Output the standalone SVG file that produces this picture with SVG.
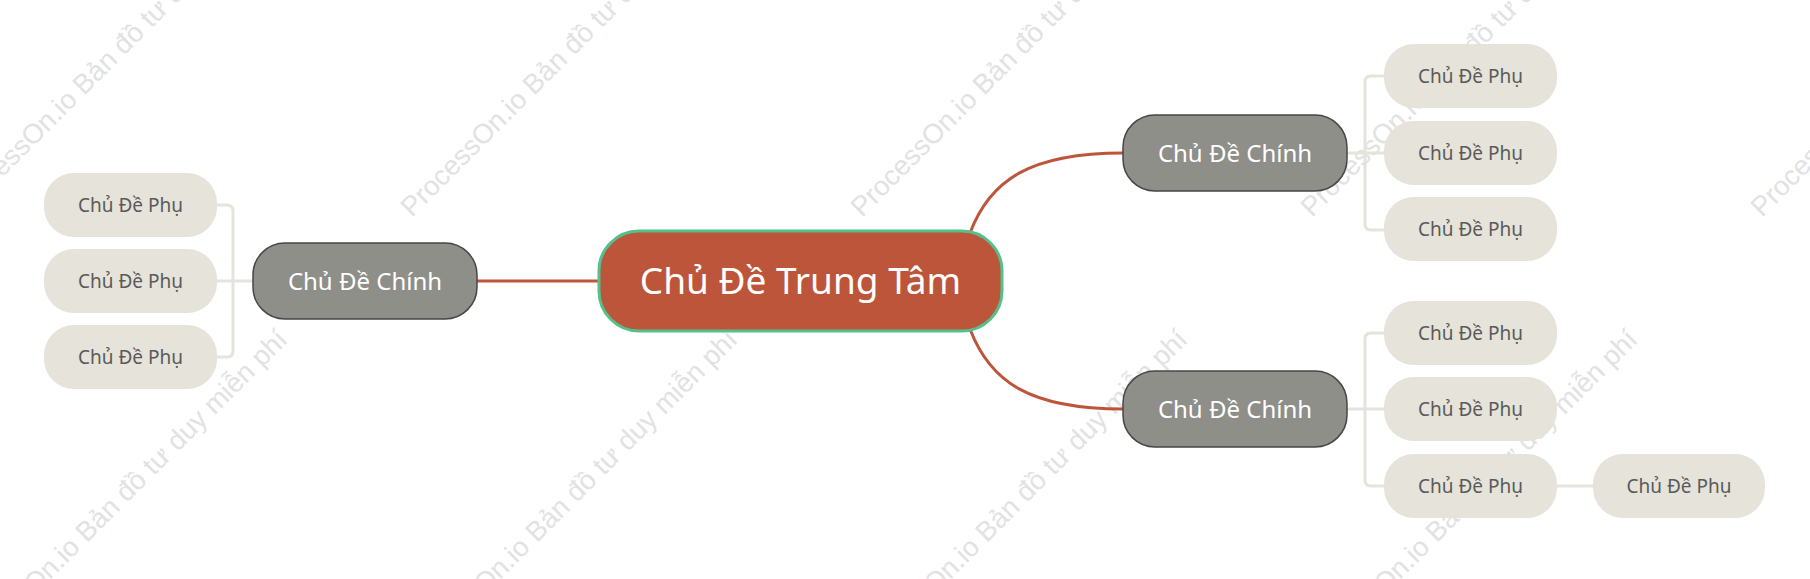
<svg xmlns="http://www.w3.org/2000/svg" width="1810" height="579" viewBox="0 0 1810 579">
  <style>
    .wm { font-family: "Liberation Sans", Arial, sans-serif; font-size: 27.5px; fill: #e2e2e2; }
    .center rect { fill: #BC5539; stroke: #55C08C; stroke-width: 3; }
    .center text { font-family: "Noto Sans", "Open Sans", sans-serif; font-size: 37px; fill: #ffffff; text-anchor: middle; }
    .main rect { fill: #8F8F8A; stroke: #474747; stroke-width: 1.5; }
    .main text { font-family: "Noto Sans", "Open Sans", sans-serif; font-size: 24px; fill: #ffffff; text-anchor: middle; }
    .sub rect { fill: #E6E3DB; }
    .sub text { font-family: "Noto Sans", "Open Sans", sans-serif; font-size: 19px; fill: #5a5a5a; text-anchor: middle; }
    .red { fill: none; stroke: #BC5539; stroke-width: 3; }
    .light { fill: none; stroke: #E6E3DB; stroke-width: 3; }
  </style>
  <rect x="0" y="0" width="1810" height="579" fill="#ffffff"/>
  <g id="watermarks">
    <text class="wm" transform="translate(-38,218) rotate(-45)">ProcessOn.io Bản đồ tư duy miễn phí</text>
    <text class="wm" transform="translate(412,218) rotate(-45)">ProcessOn.io Bản đồ tư duy miễn phí</text>
    <text class="wm" transform="translate(862,218) rotate(-45)">ProcessOn.io Bản đồ tư duy miễn phí</text>
    <text class="wm" transform="translate(1312,218) rotate(-45)">ProcessOn.io Bản đồ tư duy miễn phí</text>
    <text class="wm" transform="translate(1762,218) rotate(-45)">ProcessOn.io Bản đồ tư duy miễn phí</text>
    <text class="wm" text-anchor="end" transform="translate(289,341) rotate(-45)">ProcessOn.io Bản đồ tư duy miễn phí</text>
    <text class="wm" text-anchor="end" transform="translate(739,341) rotate(-45)">ProcessOn.io Bản đồ tư duy miễn phí</text>
    <text class="wm" text-anchor="end" transform="translate(1189,341) rotate(-45)">ProcessOn.io Bản đồ tư duy miễn phí</text>
    <text class="wm" text-anchor="end" transform="translate(1639,341) rotate(-45)">ProcessOn.io Bản đồ tư duy miễn phí</text>
  </g>
  <g id="connectors">
    <path class="red" d="M477 281 H599"/>
    <path class="red" d="M970 233 C990 180 1030 153 1123 153"/>
    <path class="red" d="M970 329 C990 382 1030 409 1123 409"/>
    <path class="light" d="M217 205 H227 Q233 205 233 211 V351 Q233 357 227 357 H217"/>
    <path class="light" d="M217 281 H253"/>
    <path class="light" d="M1347 153 H1384"/>
    <path class="light" d="M1384 76 H1371 Q1365 76 1365 82 V224 Q1365 230 1371 230 H1384"/>
    <path class="light" d="M1347 409 H1384"/>
    <path class="light" d="M1384 333 H1371 Q1365 333 1365 339 V480 Q1365 486 1371 486 H1384"/>
    <path class="light" d="M1557 486 H1593"/>
  </g>
  <g id="center" class="center">
    <rect x="599" y="231" width="403" height="100" rx="40" ry="40"/>
    <text x="800.5" y="294">Chủ Đề Trung Tâm</text>
  </g>
  <g id="main-left" class="main">
    <rect x="253" y="243" width="224" height="76" rx="32" ry="32"/>
    <text x="365" y="289.5">Chủ Đề Chính</text>
  </g>
  <g id="main-top-right" class="main">
    <rect x="1123" y="115" width="224" height="76" rx="32" ry="32"/>
    <text x="1235" y="161.5">Chủ Đề Chính</text>
  </g>
  <g id="main-bottom-right" class="main">
    <rect x="1123" y="371" width="224" height="76" rx="32" ry="32"/>
    <text x="1235" y="417.5">Chủ Đề Chính</text>
  </g>
  <g id="sub-l1" class="sub"><rect x="44" y="173" width="173" height="64" rx="30" ry="30"/><text x="130.5" y="212">Chủ Đề Phụ</text></g>
  <g id="sub-l2" class="sub"><rect x="44" y="249" width="173" height="64" rx="30" ry="30"/><text x="130.5" y="288">Chủ Đề Phụ</text></g>
  <g id="sub-l3" class="sub"><rect x="44" y="325" width="173" height="64" rx="30" ry="30"/><text x="130.5" y="364">Chủ Đề Phụ</text></g>
  <g id="sub-rt1" class="sub"><rect x="1384" y="44" width="173" height="64" rx="30" ry="30"/><text x="1470.5" y="83">Chủ Đề Phụ</text></g>
  <g id="sub-rt2" class="sub"><rect x="1384" y="121" width="173" height="64" rx="30" ry="30"/><text x="1470.5" y="160">Chủ Đề Phụ</text></g>
  <g id="sub-rt3" class="sub"><rect x="1384" y="197" width="173" height="64" rx="30" ry="30"/><text x="1470.5" y="236">Chủ Đề Phụ</text></g>
  <g id="sub-rb1" class="sub"><rect x="1384" y="301" width="173" height="64" rx="30" ry="30"/><text x="1470.5" y="340">Chủ Đề Phụ</text></g>
  <g id="sub-rb2" class="sub"><rect x="1384" y="377" width="173" height="64" rx="30" ry="30"/><text x="1470.5" y="416">Chủ Đề Phụ</text></g>
  <g id="sub-rb3" class="sub"><rect x="1384" y="454" width="173" height="64" rx="30" ry="30"/><text x="1470.5" y="493">Chủ Đề Phụ</text></g>
  <g id="sub-rb3-child" class="sub"><rect x="1593" y="454" width="172" height="64" rx="30" ry="30"/><text x="1679" y="493">Chủ Đề Phụ</text></g>
</svg>
